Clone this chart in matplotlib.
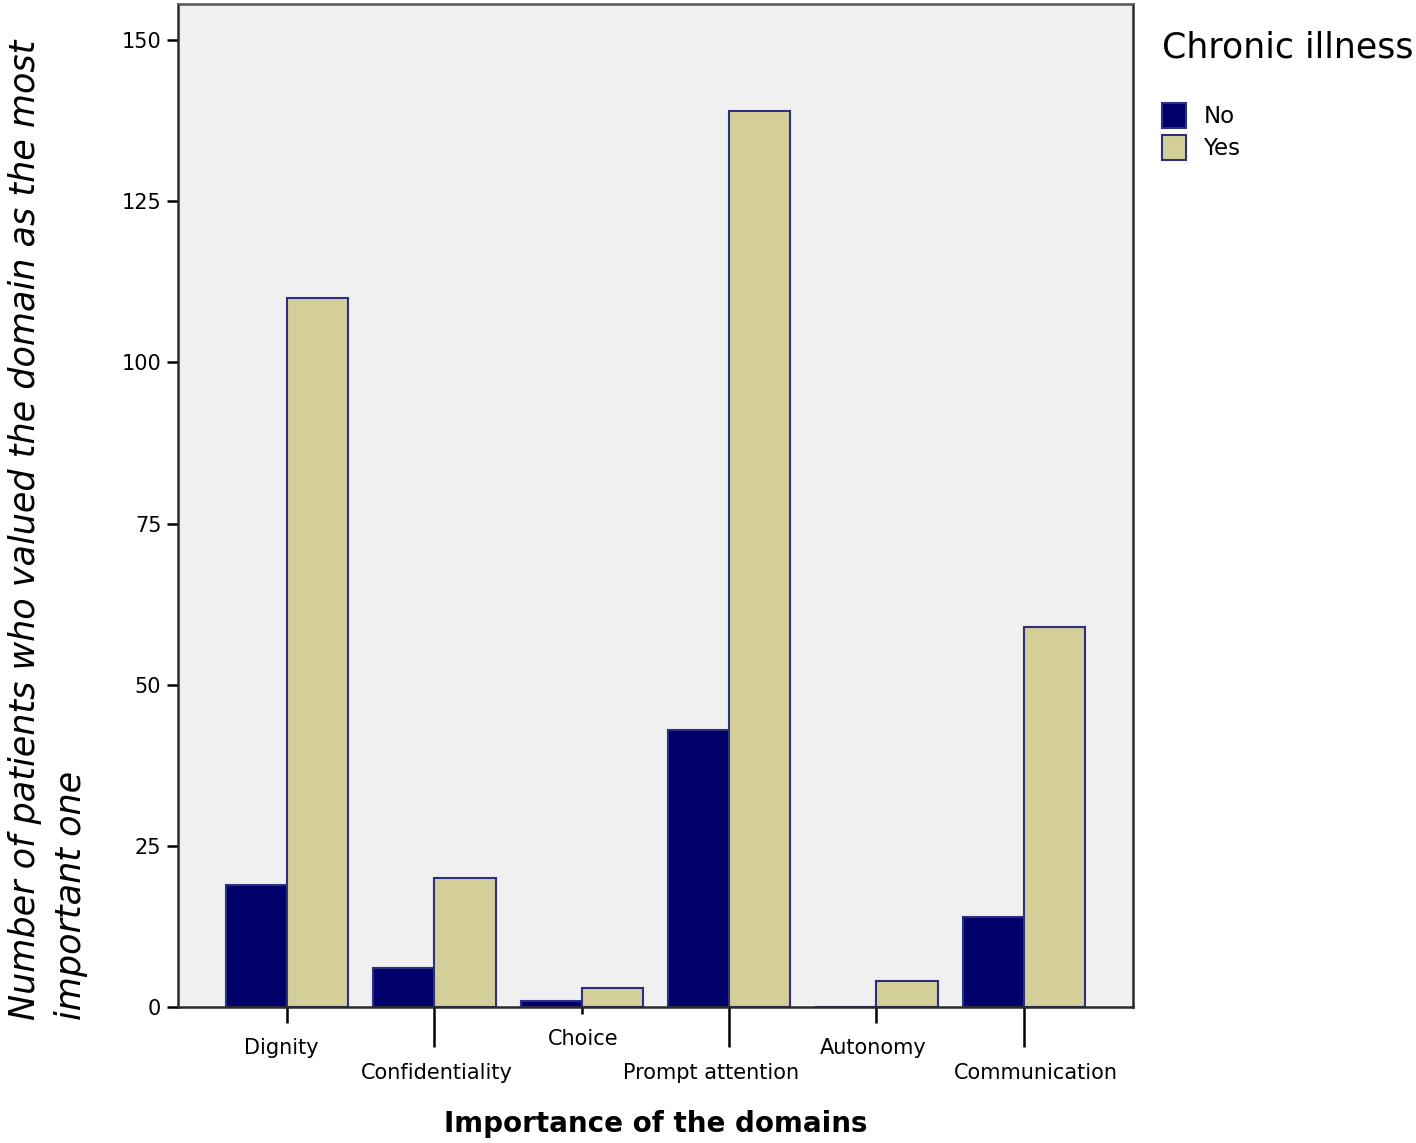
import matplotlib
matplotlib.use("Agg")
import matplotlib.pyplot as plt
import matplotlib.transforms as mtransforms
import numpy as np

# données
dominios = ["Dignity", "Confidentiality", "Choice", "Prompt attention", "Autonomy", "Communication"]
valores_no = [19, 6, 1, 43, 0, 14]
valores_yes = [110, 20, 3, 139, 4, 59]
ticks_y = [0, 25, 50, 75, 100, 125, 150]

cor_no = "#00006b"
cor_yes = "#d4cf98"
cor_borda = "#2e2e82"

fig = plt.figure(figsize=(14.16, 11.43), dpi=100)
ax = fig.add_axes([0.1257, 0.119, 0.6743, 0.8775])
ax.set_facecolor("#f0f0f0")

x = np.arange(len(dominios))
w = 0.415
b_no = ax.bar(x - w / 2, valores_no, w, color=cor_no, edgecolor=cor_borda, linewidth=1.5, label="No")
b_yes = ax.bar(x + w / 2, valores_yes, w, color=cor_yes, edgecolor=cor_borda, linewidth=1.5, label="Yes")

ax.set_xlim(-0.74, 5.74)
ax.set_ylim(0, 155.6)
ax.set_yticks(ticks_y)
ax.set_yticklabels([str(t) for t in ticks_y], fontsize=15)
ax.tick_params(axis="y", length=8, width=1.8, direction="out", pad=4)

ax.set_xticks(x)
ax.set_xticklabels(dominios, fontsize=15)
# marcas de tamanhos diferentes, rótulos escalonados como no original
tamanhos = [11.5, 29, 5, 29, 11.5, 29]
desvios = [-4, 2, 1, -13, -2, 9]   # pequeno deslocamento horizontal dos rótulos (pt)
for tick, tam, dx in zip(ax.xaxis.get_major_ticks(), tamanhos, desvios):
    tick._apply_params(size=tam, width=1.8, pad=11)
    lab = tick.label1
    lab.set_transform(lab.get_transform() + mtransforms.ScaledTranslation(dx / 72, 0, fig.dpi_scale_trans))

for s in ax.spines.values():
    s.set_linewidth(1.8)
    s.set_color("#2a2a2a")
ax.spines["top"].set_color("#555555")

ax.set_xlabel("Importance of the domains", fontsize=20, fontweight="bold", labelpad=20)
ax.set_ylabel("Number of patients who valued the domain as the most\nimportant one",
              fontsize=25.2, style="italic", multialignment="left", linespacing=1.45)
ax.yaxis.set_label_coords(-0.094, 0.476)

fig.text(1162 / 1416, 1 - 47 / 1143, "Chronic illness", fontsize=25, va="center", ha="left")
fig.legend(handles=[b_no, b_yes], loc="upper left", bbox_to_anchor=(1162 / 1416, 1 - 103 / 1143),
           frameon=False, fontsize=16.5, handlelength=1.05, handleheight=1.3,
           handletextpad=0.75, labelspacing=0.3, borderpad=0, borderaxespad=0)

fig.savefig("out.png", dpi=100)
